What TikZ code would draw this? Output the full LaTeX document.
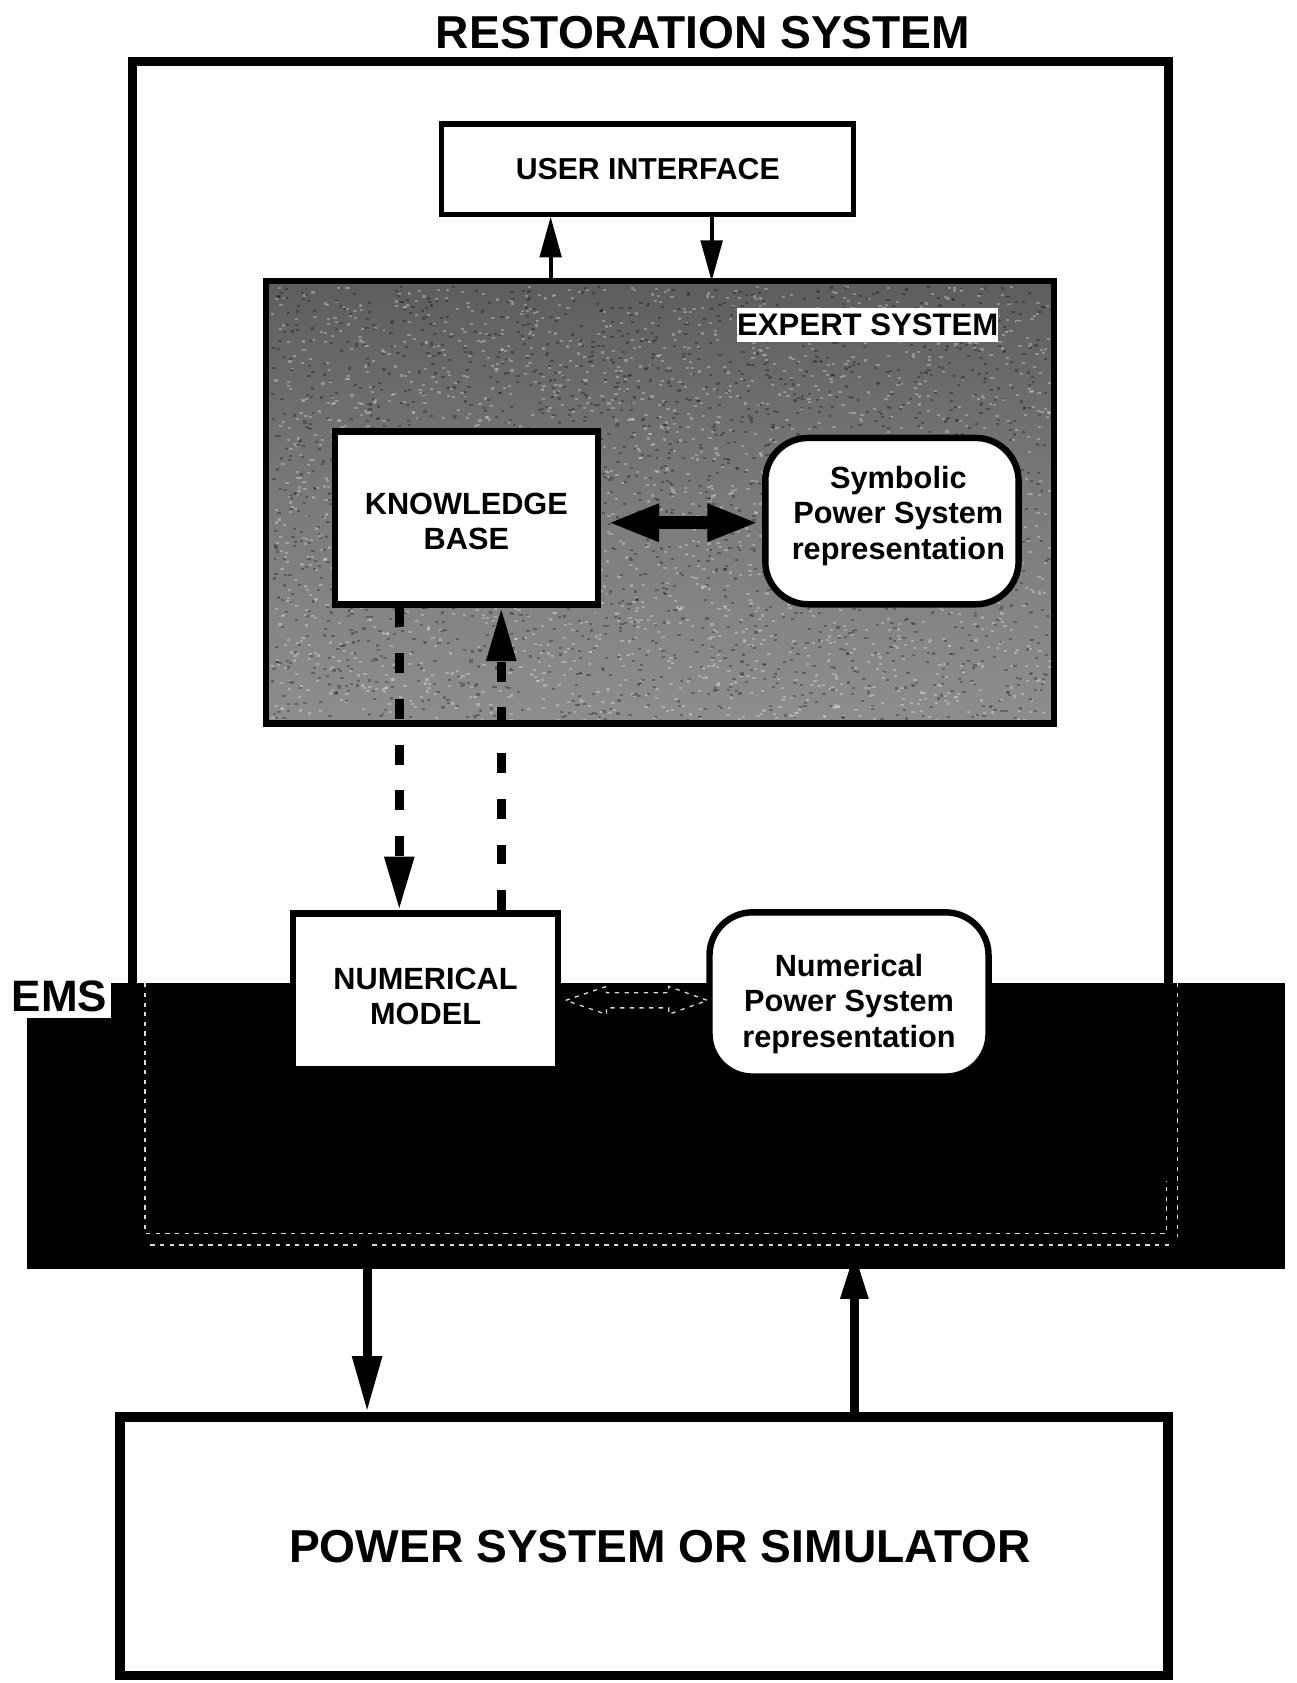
\documentclass[tikz,border=0pt]{standalone}
\usepackage{fontspec}
\setmainfont{Liberation Sans}
\usetikzlibrary{arrows.meta,calc}
\pgfdeclareverticalshading{esshade}{100bp}{color(0bp)=(black!38); color(30bp)=(black!46); color(50bp)=(black!52); color(68bp)=(black!60); color(80bp)=(black!66); color(90bp)=(black!56); color(100bp)=(black!50)}
\begin{document}
\begin{tikzpicture}[x=0.5pt,y=-0.5pt,
  outerbox/.style={draw=black, line width=4.2pt, inner sep=0pt},
  whitebox/.style={draw=black, fill=white, line width=3pt, inner sep=0pt, align=center,
     font=\fontsize{14.3}{16.5}\selectfont\bfseries},
  roundbox/.style={whitebox, rounded corners=20pt},
  thinarrow/.style={line width=1.8pt, -{Triangle[length=19pt,width=10pt]}},
  dasharrow/.style={line width=4.2pt, dash pattern=on 9.3pt off 12pt, -{Triangle[length=25pt,width=13pt]}},
  bigarrow/.style={line width=4.2pt},
  ghost/.style={draw=white, line width=0.6pt, dash pattern=on 2pt off 2.5pt, opacity=0.85},
  speckw/.style={fill=white, opacity=0.28},
  speckb/.style={fill=black, opacity=0.28}]
\useasboundingbox (0,0) rectangle (1208,1568);

% helper coordinates (x or y positions)
\coordinate (x513) at (513,0);
\coordinate (x663) at (663,0);
\coordinate (x372) at (372,0);
\coordinate (x467) at (467,0);
\coordinate (x342) at (342,0);
\coordinate (x796) at (796,0);
\coordinate (y487) at (0,487);
\coordinate (y932) at (0,932);

% restoration system box and title
\node[outerbox, minimum width=482.75pt, minimum height=546pt] (rs) at (606.25,603) {};
\node[font=\fontsize{21.5}{24}\selectfont\bfseries, anchor=base, inner sep=0pt] (title) at (655,45) {RESTORATION SYSTEM};

% EMS band
\node[fill=black, inner sep=0pt, minimum width=586pt, minimum height=133pt] (ems) at (611,1049) {};
\draw[ghost] (135,916) -- (135,1149) -- (1087,1149) -- (1087,1100);
\draw[ghost] (1097,916) -- (1097,1152);
\draw[ghost] (140,1160) -- (1094,1160);
\node[fill=white, inner sep=0pt, minimum width=47.5pt, minimum height=20pt,
      font=\fontsize{20.5}{22}\selectfont\bfseries] (emslabel) at (55.5,928) {EMS};

% user interface
\node[draw=black, fill=white, line width=2.4pt, inner sep=0pt, minimum width=192pt, minimum height=42pt,
      font=\fontsize{14.1}{16}\selectfont\bfseries] (ui) at (603.5,157.5) {USER INTERFACE};

% expert system (grey, grainy)
\node[shade, shading=esshade, inner sep=0pt, outer sep=0pt,
      minimum width=367pt, minimum height=206pt] (es) at (615,468) {};
\pgfmathsetseed{11}
\foreach \i in {1,...,2200}{
  \pgfmathsetmacro\rx{252+725*rnd}
  \pgfmathsetmacro\ry{266+404*rnd}
  \fill[speckw] (\rx,\ry) rectangle ++(3,2);
  \pgfmathsetmacro\sx{252+725*rnd}
  \pgfmathsetmacro\sy{266+404*rnd}
  \fill[speckb] (\sx,\sy) rectangle ++(3,2);
}
\draw[line width=3pt] (es.north west) rectangle (es.south east);
\node[fill=white, inner sep=0pt, minimum width=119.5pt, minimum height=16pt,
      font=\fontsize{14.5}{16}\selectfont\bfseries] (eslabel) at (808.5,303) {EXPERT SYSTEM};

\node[whitebox, minimum width=122.5pt, minimum height=80.5pt] (kb) at (434.5,482.5)
     {\rule{0pt}{13.2pt}KNOWLEDGE\\BASE};
\node[roundbox, minimum width=118pt, minimum height=77.5pt] (sym) at (831,485.5)
     {\hspace*{6pt}Symbolic\\\hspace*{6pt}Power System\\\hspace*{6pt}representation\rule[-8pt]{0pt}{0pt}};

% numerical part
\node[whitebox, minimum width=123.5pt, minimum height=72.5pt] (nm) at (396.5,923.5)
     {\rule{0pt}{14.7pt}NUMERICAL\\MODEL};
\node[roundbox, minimum width=130pt, minimum height=76.5pt] (npsr) at (791,926.5)
     {\rule{0pt}{19.2pt}Numerical\\Power System\\representation};

% power system
\node[draw=black, fill=white, line width=4.5pt, inner sep=0pt, minimum width=488pt, minimum height=120.5pt,
      font=\fontsize{21.5}{24}\selectfont\bfseries] (ps) at (600,1440.5) {\hspace*{15pt}POWER SYSTEM OR SIMULATOR};

% connectors
\draw[thinarrow] (es.north -| x513) -- (ui.south -| x513);
\draw[thinarrow] (ui.south -| x663) -- (es.north -| x663);

\draw[line width=6pt, {Triangle[length=24pt,width=16pt]}-{Triangle[length=24pt,width=16pt]},
      shorten <=3pt, shorten >=1.5pt] (kb.east |- y487) -- (sym.west |- y487);

\draw[dasharrow] (kb.south -| x372) -- (nm.north -| x372);
\draw[dasharrow] (nm.north -| x467) -- (kb.south -| x467);

\draw[ghost] ($(nm.east |- y932)+(4,0)$) -- ++(38,-13) -- ++(0,6) -- ++(58,0) -- ++(0,-6)
   -- ++(36,13) -- ++(-36,13) -- ++(0,-6) -- ++(-58,0) -- ++(0,6) -- cycle;

\coordinate (uptip) at (796,1166);
\draw[bigarrow, -{Triangle[length=26pt,width=13pt]}] (rs.south -| x342) -- (ps.north -| x342);
\draw[bigarrow, -{Triangle[length=22pt,width=12pt]}] (ps.north -| x796) -- (uptip);
\end{tikzpicture}
\end{document}
